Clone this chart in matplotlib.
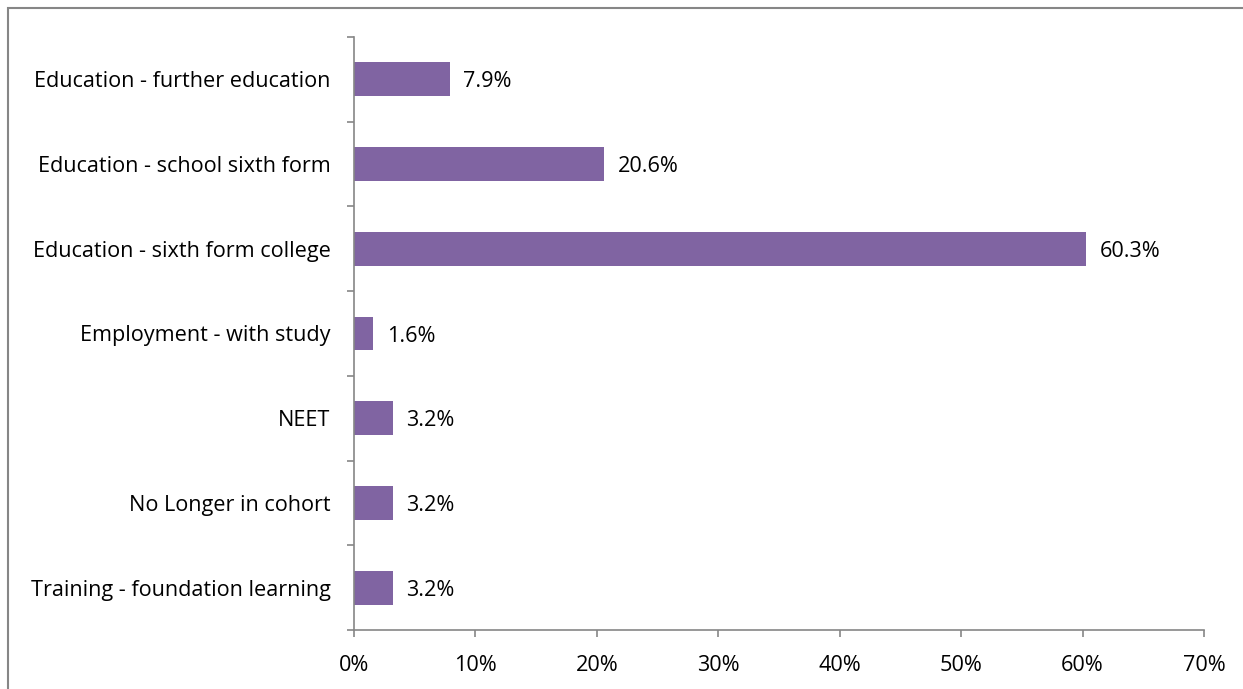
import matplotlib
matplotlib.use("Agg")
import matplotlib.pyplot as plt
from matplotlib.ticker import FixedLocator, PercentFormatter
from matplotlib.patches import Rectangle

categories = ["Education - further education", "Education - school sixth form",
              "Education - sixth form college", "Employment - with study", "NEET",
              "No Longer in cohort", "Training - foundation learning"]
values = [7.9, 20.6, 60.3, 1.6, 3.2, 3.2, 3.2]
xticks = [0, 10, 20, 30, 40, 50, 60, 70]

plt.rcParams['font.family'] = ['Open Sans', 'DejaVu Sans']
FS = 15.6
fig = plt.figure(figsize=(12.43, 6.89), dpi=100)
ax = fig.add_axes([354/1243, 1-630/689, (1204-354)/1243, (630-37)/689])

n = len(categories)
ypos = list(range(n))
ax.barh(ypos, values, height=0.4, color="#8064A2")
for y, v in zip(ypos, values):
    ax.text(v + 1.1, y + 0.03, f"{v:.1f}%", va="center", ha="left", fontsize=FS, color="black")

ax.set_ylim(n - 0.5, -0.5)
ax.set_xlim(0, 70)
ax.set_xticks(xticks)
ax.xaxis.set_major_formatter(PercentFormatter(decimals=0))
ax.set_yticks(ypos)
ax.set_yticklabels(categories)
ax.yaxis.set_minor_locator(FixedLocator([i - 0.5 for i in range(n + 1)]))
ax.tick_params(axis='y', which='major', length=0, pad=17, labelsize=FS)
ax.tick_params(axis='y', which='minor', length=5, color="#868686", width=1.2)
ax.tick_params(axis='x', length=5, color="#868686", width=1.2, labelsize=FS, pad=13)
for s in ["top", "right"]:
    ax.spines[s].set_visible(False)
for s in ["left", "bottom"]:
    ax.spines[s].set_color("#868686")
    ax.spines[s].set_linewidth(1.2)

fig.patches.append(Rectangle((8/1243, -0.1), 1.2, 1.1 - 8/689, transform=fig.transFigure,
                             fill=False, edgecolor="#868686", linewidth=1.5))
fig.savefig("out.png", dpi=100)
